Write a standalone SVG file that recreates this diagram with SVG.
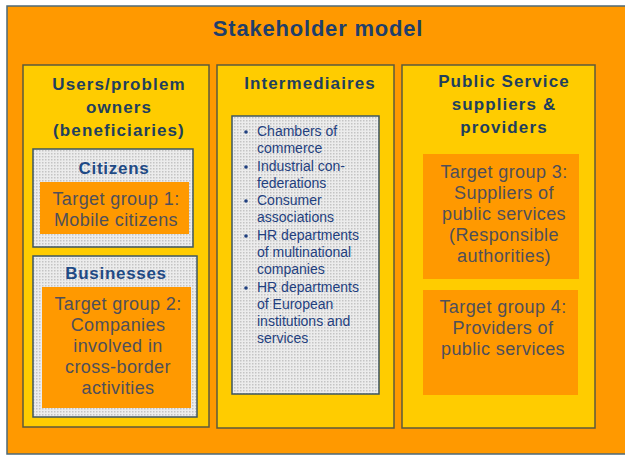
<svg xmlns="http://www.w3.org/2000/svg" width="625" height="455" viewBox="0 0 625 455">
  <defs>
    <!-- fine dotted fill used for the grey sub-panels -->
    <pattern id="dots" width="3" height="3" patternUnits="userSpaceOnUse">
      <rect width="3" height="3" fill="#ECECEC"/>
      <rect x="0" y="0" width="1.5" height="1.5" fill="#C4C4C4"/>
    </pattern>
    <style>
      .frame { fill: #FF9900; stroke: #4E6A78; stroke-width: 1.5; }
      .col { fill: #FFCC00; stroke: #5C5A3C; stroke-width: 1.5; }
      .panel { fill: url(#dots); stroke: #3E5560; stroke-width: 1.5; }
      .group { fill: #FF9900; }
      .title { font-family: "Liberation Sans", Arial, sans-serif; font-weight: bold; font-size: 22px; letter-spacing: 0.8px; fill: #1F3F6A; text-anchor: middle; }
      .head { font-family: "Liberation Sans", Arial, sans-serif; font-weight: bold; font-size: 17px; letter-spacing: 1.1px; fill: #1F3F5E; text-anchor: middle; }
      .sub { font-family: "Liberation Sans", Arial, sans-serif; font-weight: bold; font-size: 17px; letter-spacing: 0.7px; fill: #1F4A85; text-anchor: middle; }
      .tg { font-family: "Liberation Sans", Arial, sans-serif; font-size: 18px; letter-spacing: 0.4px; fill: #4F4F5A; text-anchor: middle; }
      .item { font-family: "Liberation Sans", Arial, sans-serif; font-size: 14px; fill: #1F3F7F; }
      .bullet { fill: #1F3F7F; }
    </style>
  </defs>

  <rect width="625" height="455" fill="#FFFFFF"/>

  <g id="model">
    <rect class="frame" x="7" y="6" width="625" height="448"/>
    <text class="title" x="318" y="36">Stakeholder model</text>
  </g>

  <!-- Column 1: users / problem owners -->
  <g id="users">
    <rect class="col" x="23" y="65" width="186" height="362"/>
    <text class="head" x="119" y="90">Users/problem</text>
    <text class="head" x="119" y="113">owners</text>
    <text class="head" x="119" y="136">(beneficiaries)</text>
  </g>

  <g id="citizens">
    <rect class="panel" x="33" y="149" width="160" height="98"/>
    <text class="sub" x="114" y="174">Citizens</text>
    <rect class="group" x="40" y="182" width="149" height="52"/>
    <text class="tg" x="116" y="205">Target group 1:</text>
    <text class="tg" x="116" y="226">Mobile citizens</text>
  </g>

  <g id="businesses">
    <rect class="panel" x="33" y="256" width="164" height="161"/>
    <text class="sub" x="116" y="279">Businesses</text>
    <rect class="group" x="42" y="287" width="149" height="121"/>
    <text class="tg" x="118" y="310">Target group 2:</text>
    <text class="tg" x="118" y="331">Companies</text>
    <text class="tg" x="118" y="352">involved in</text>
    <text class="tg" x="118" y="373">cross-border</text>
    <text class="tg" x="118" y="394">activities</text>
  </g>

  <!-- Column 2: intermediaries -->
  <g id="intermediaires">
    <rect class="col" x="217" y="65" width="177" height="363"/>
    <text class="head" x="310" y="89">Intermediaires</text>
    <rect class="panel" x="232" y="116" width="147" height="278"/>
    <g class="bullet">
      <circle cx="246" cy="132" r="1.8"/>
      <circle cx="246" cy="167" r="1.8"/>
      <circle cx="246" cy="201" r="1.8"/>
      <circle cx="246" cy="236" r="1.8"/>
      <circle cx="246" cy="288" r="1.8"/>
    </g>
    <text class="item" x="257" y="136">Chambers of</text>
    <text class="item" x="257" y="153">commerce</text>
    <text class="item" x="257" y="171">Industrial con-</text>
    <text class="item" x="257" y="188">federations</text>
    <text class="item" x="257" y="205">Consumer</text>
    <text class="item" x="257" y="222">associations</text>
    <text class="item" x="257" y="240">HR departments</text>
    <text class="item" x="257" y="257">of multinational</text>
    <text class="item" x="257" y="274">companies</text>
    <text class="item" x="257" y="292">HR departments</text>
    <text class="item" x="257" y="309">of European</text>
    <text class="item" x="257" y="326">institutions and</text>
    <text class="item" x="257" y="343">services</text>
  </g>

  <!-- Column 3: public service suppliers and providers -->
  <g id="suppliers">
    <rect class="col" x="402" y="65" width="193" height="363"/>
    <text class="head" x="504" y="87">Public Service</text>
    <text class="head" x="504" y="110">suppliers &amp;</text>
    <text class="head" x="504" y="133">providers</text>
  </g>

  <g id="target3">
    <rect class="group" x="423" y="154" width="156" height="125"/>
    <text class="tg" x="504" y="178">Target group 3:</text>
    <text class="tg" x="504" y="199">Suppliers of</text>
    <text class="tg" x="504" y="220">public services</text>
    <text class="tg" x="504" y="241">(Responsible</text>
    <text class="tg" x="504" y="262">authorities)</text>
  </g>

  <g id="target4">
    <rect class="group" x="423" y="290" width="155" height="105"/>
    <text class="tg" x="503" y="313">Target group 4:</text>
    <text class="tg" x="503" y="334">Providers of</text>
    <text class="tg" x="503" y="355">public services</text>
  </g>
</svg>
